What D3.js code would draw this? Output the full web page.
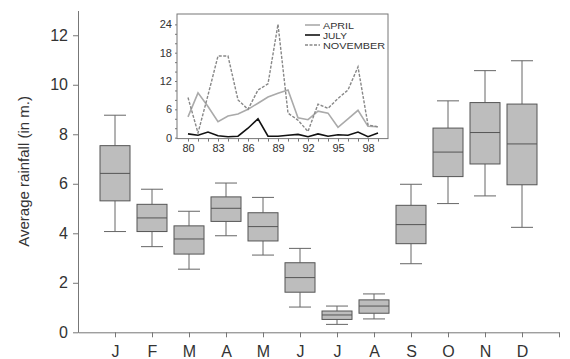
<!DOCTYPE html>
<html>
<head>
<meta charset="utf-8">
<script src="https://cdn.jsdelivr.net/npm/d3@7"></script>
<style>
  body { margin: 0; background: #fff; }
  svg { display: block; font-family: "Liberation Sans", Arial, sans-serif; }
</style>
</head>
<body>
<svg id="chart" width="570" height="359"></svg>
<script>
// monthly rainfall box plots
const months = ['J', 'F', 'M', 'A', 'M', 'J', 'J', 'A', 'S', 'O', 'N', 'D'];
const whiskerLow = [4.07, 3.46, 2.55, 3.90, 3.12, 1.02, 0.32, 0.54, 2.77, 5.20, 5.51, 4.24];
const q1 = [5.31, 4.07, 3.16, 4.48, 3.69, 1.62, 0.52, 0.77, 3.58, 6.29, 6.80, 5.96];
const medians = [6.42, 4.62, 3.77, 5.01, 4.27, 2.21, 0.70, 1.06, 4.35, 7.28, 8.07, 7.61];
const q3 = [7.54, 5.17, 4.30, 5.47, 4.83, 2.81, 0.86, 1.31, 5.13, 8.25, 9.28, 9.22];
const whiskerHigh = [8.77, 5.78, 4.89, 6.03, 5.45, 3.39, 1.06, 1.55, 5.98, 9.35, 10.57, 10.97];
const yTicks = [0, 2, 4, 6, 8, 10, 12];

// inset yearly series
const years = d3.range(80, 100);
const april = [4.4, 9.5, 6.6, 3.4, 4.6, 5.0, 6.0, 7.3, 8.6, 9.4, 10.1, 4.2, 3.8, 5.6, 5.2, 2.2, 4.0, 5.8, 2.4, 2.3];
const july = [0.8, 0.5, 1.2, 0.4, 0.2, 0.3, 2.0, 4.0, 0.3, 0.3, 0.5, 0.7, 0.2, 0.8, 0.3, 0.6, 0.5, 1.2, 0.2, 1.0];
const november = [8.5, 1.0, 9.0, 17.3, 17.3, 8.0, 6.0, 10.1, 11.4, 24.0, 5.2, 3.7, 1.3, 7.1, 6.2, 8.3, 10.1, 15.0, 2.7, 2.3];
const insetYTicks = [0, 6, 12, 18, 24];
const insetXTicks = [80, 83, 86, 89, 92, 95, 98];

const svg = d3.select('#chart');

// Main scales
const x = d3.scaleLinear().domain([0, 13]).range([78, 559]);
const y = d3.scaleLinear().domain([0, 13]).range([332.3, 10.5]);

const boxes = months.map((m, i) => ({
  i: i + 1, lo: whiskerLow[i], q1: q1[i], med: medians[i], q3: q3[i], hi: whiskerHigh[i]
}));

// axes
const yAxis = svg.append('g')
  .attr('transform', `translate(${x(0)},0)`)
  .call(d3.axisLeft(y).tickValues(yTicks).tickSize(5).tickPadding(5).tickSizeOuter(0));
yAxis.selectAll('text').attr('font-size', 16).attr('fill', '#333');

const xAxis = svg.append('g')
  .attr('transform', `translate(0,${y(0)})`)
  .call(d3.axisBottom(x).tickValues(d3.range(1, 14)).tickSize(5).tickPadding(8).tickSizeOuter(0)
    .tickFormat(d => months[d - 1] || ''));
xAxis.selectAll('text').attr('font-size', 16).attr('fill', '#333');

svg.selectAll('.domain, .tick line').attr('stroke', '#777');

svg.append('text')
  .attr('transform', `translate(29,${y(6.5)}) rotate(-90)`)
  .attr('text-anchor', 'middle')
  .attr('font-size', 15)
  .attr('fill', '#333')
  .text('Average rainfall (in m.)');

// boxes
const boxW = 30, capW = 22;
const bg = svg.append('g');
boxes.forEach(b => {
  const cx = x(b.i);
  bg.append('line').attr('x1', cx).attr('x2', cx).attr('y1', y(b.hi)).attr('y2', y(b.q3))
    .attr('stroke', '#666');
  bg.append('line').attr('x1', cx).attr('x2', cx).attr('y1', y(b.q1)).attr('y2', y(b.lo))
    .attr('stroke', '#666');
  bg.append('line').attr('x1', cx - capW / 2).attr('x2', cx + capW / 2).attr('y1', y(b.hi)).attr('y2', y(b.hi))
    .attr('stroke', '#666');
  bg.append('line').attr('x1', cx - capW / 2).attr('x2', cx + capW / 2).attr('y1', y(b.lo)).attr('y2', y(b.lo))
    .attr('stroke', '#666');
  bg.append('rect').attr('x', cx - boxW / 2).attr('width', boxW)
    .attr('y', y(b.q3)).attr('height', y(b.q1) - y(b.q3))
    .attr('fill', '#bdbdbd').attr('stroke', '#555');
  bg.append('line').attr('x1', cx - boxW / 2).attr('x2', cx + boxW / 2).attr('y1', y(b.med)).attr('y2', y(b.med))
    .attr('stroke', '#555');
});

// Inset
const ix = d3.scaleLinear().domain([78.9, 100]).range([177, 388]);
const iy = d3.scaleLinear().domain([-0.2, 26.2]).range([138.6, 14]);

const inset = svg.append('g');
inset.append('rect')
  .attr('x', ix(78.9)).attr('y', iy(26.2))
  .attr('width', ix(100) - ix(78.9)).attr('height', iy(-0.2) - iy(26.2))
  .attr('fill', '#fff').attr('stroke', '#777');

inset.append('g')
  .attr('transform', `translate(${ix(78.9)},0)`)
  .call(d3.axisLeft(iy).tickValues(d3.range(0, 26, 2)).tickSize(2).tickPadding(3)
    .tickFormat(d => insetYTicks.includes(d) ? d : '').tickSizeOuter(0));
inset.append('g')
  .attr('transform', `translate(0,${iy(-0.2)})`)
  .call(d3.axisBottom(ix).tickValues(d3.range(80, 100)).tickSize(3).tickPadding(3)
    .tickFormat(d => insetXTicks.includes(d) ? d : '').tickSizeOuter(0));
inset.selectAll('.domain').remove();
inset.selectAll('.tick line').attr('stroke', '#777');
inset.selectAll('.tick text').attr('font-size', 11).attr('fill', '#333');

const line = vals => d3.line().x((d, i) => ix(years[i])).y(d => iy(d))(vals);
const series = [
  { name: 'APRIL', vals: april, color: '#aaa', dash: null, w: 1.6, len: 31 },
  { name: 'JULY', vals: july, color: '#111', dash: null, w: 1.6, len: 24 },
  { name: 'NOVEMBER', vals: november, color: '#888', dash: '3,1.5', w: 1.4, len: 62 }
];
series.forEach(s => {
  inset.append('path').attr('d', line(s.vals))
    .attr('fill', 'none').attr('stroke', s.color).attr('stroke-width', s.w)
    .attr('stroke-dasharray', s.dash);
});

// legend
series.forEach((s, i) => {
  const ly = 25 + i * 10;
  inset.append('line').attr('x1', 305).attr('x2', 320).attr('y1', ly).attr('y2', ly)
    .attr('stroke', s.color).attr('stroke-width', s.w).attr('stroke-dasharray', s.dash);
  inset.append('text').attr('x', 323).attr('y', ly + 3.5)
    .attr('font-size', 9.5).attr('fill', '#333')
    .attr('textLength', s.len).attr('lengthAdjust', 'spacingAndGlyphs')
    .text(s.name);
});
</script>
</body>
</html>
